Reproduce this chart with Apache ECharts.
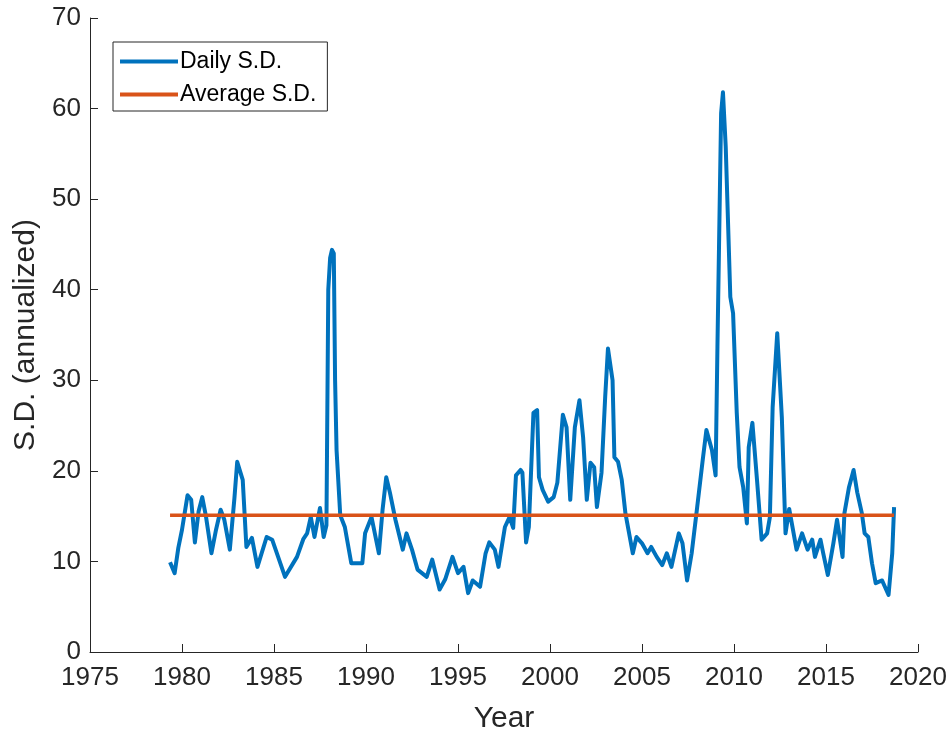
<!DOCTYPE html>
<html>
<head>
<meta charset="utf-8">
<script src="https://cdn.jsdelivr.net/npm/echarts@6/dist/echarts.min.js"></script>
<style>html,body{margin:0;padding:0;background:#fff}#c{width:951px;height:730px}</style>
</head>
<body>
<div id="c"></div>
<script>
const years = [1979.35,1979.6,1979.8,1980.0,1980.3,1980.5,1980.7,1980.9,1981.1,1981.3,1981.6,1981.85,1982.1,1982.3,1982.6,1982.85,1983.0,1983.3,1983.5,1983.8,1984.1,1984.6,1984.9,1985.6,1986.25,1986.6,1986.8,1987.0,1987.2,1987.5,1987.7,1987.85,1987.95,1988.05,1988.15,1988.25,1988.32,1988.4,1988.6,1988.85,1989.2,1989.8,1989.95,1990.3,1990.7,1990.9,1991.1,1991.3,1991.6,1992.0,1992.2,1992.5,1992.8,1993.3,1993.6,1994.0,1994.3,1994.7,1995.0,1995.3,1995.55,1995.8,1996.2,1996.5,1996.7,1997.0,1997.2,1997.55,1997.8,1998.0,1998.15,1998.4,1998.5,1998.7,1998.85,1999.1,1999.3,1999.4,1999.6,1999.9,2000.2,2000.4,2000.7,2000.9,2001.1,2001.35,2001.6,2001.8,2002.0,2002.2,2002.4,2002.55,2002.8,2003.0,2003.15,2003.4,2003.5,2003.7,2003.9,2004.1,2004.5,2004.7,2005.0,2005.3,2005.5,2005.8,2006.1,2006.35,2006.6,2007.0,2007.2,2007.45,2007.7,2008.0,2008.3,2008.5,2008.8,2009.0,2009.1,2009.3,2009.4,2009.55,2009.8,2009.95,2010.15,2010.3,2010.5,2010.7,2010.8,2011.0,2011.25,2011.5,2011.8,2011.95,2012.1,2012.35,2012.6,2012.8,2013.0,2013.4,2013.7,2014.0,2014.25,2014.4,2014.7,2014.85,2015.1,2015.4,2015.6,2015.9,2016.0,2016.25,2016.5,2016.7,2016.95,2017.1,2017.3,2017.5,2017.7,2018.05,2018.2,2018.4,2018.6,2018.7];
const dailySD = [9.9,8.7,11.5,13.5,17.3,16.8,12.1,15.5,17.1,15.0,10.9,13.5,15.7,14.6,11.3,17,21.0,19.0,11.6,12.6,9.4,12.7,12.4,8.3,10.5,12.5,13.1,14.9,12.7,15.9,12.7,14,40,43.5,44.4,44.0,30,22.3,15.1,13.8,9.8,9.8,13.1,14.9,10.9,15.7,19.3,17.6,14.6,11.3,13.1,11.3,9.1,8.3,10.2,6.9,8.0,10.5,8.7,9.4,6.5,7.9,7.2,10.9,12.1,11.3,9.4,13.8,14.9,13.7,19.5,20.1,19.8,12.1,13.8,26.4,26.7,19.3,17.9,16.6,17.1,18.7,26.2,24.8,16.8,24.8,27.8,23.7,16.8,20.9,20.4,16.0,19.8,28.2,33.5,30.0,21.5,21.0,19.0,15.3,10.9,12.7,12.0,10.9,11.6,10.5,9.6,10.9,9.4,13.1,12.0,7.9,10.9,16.0,21.2,24.5,22.3,19.5,33.7,59.5,61.8,55.8,39.2,37.4,26.4,20.4,18.2,14.2,22.6,25.3,19.0,12.4,13.1,14.9,27.0,35.2,25.9,13.1,15.8,11.3,13.1,11.3,12.4,10.5,12.4,10.9,8.5,12.0,14.6,10.5,15.3,18.2,20.1,17.6,15.3,13.1,12.7,9.8,7.6,7.9,7.2,6.3,10.9,16.0];
const avgYears = [1979.35, 2018.7];
const avgSD = [15.1, 15.1];
const xTicks = [1975,1980,1985,1990,1995,2000,2005,2010,2015,2020];
const yTicks = [0,10,20,30,40,50,60,70];

const chart = echarts.init(document.getElementById('c'));
const axisColor = '#262626';
const font = '"Liberation Sans", Arial, sans-serif';
chart.setOption({
  animation: false,
  backgroundColor: '#fff',
  grid: {left: 90, right: 33, top: 18, bottom: 78, containLabel: false, outerBoundsMode: 'none'},
  legend: {
    orient: 'vertical', left: 113, top: 42,
    borderColor: axisColor, borderWidth: 1,
    padding: [8, 11, 5, 7],
    itemWidth: 58, itemHeight: 4, itemGap: 10,
    icon: 'rect',
    textStyle: {fontFamily: font, fontSize: 23, color: '#000', padding: [0,0,0,-3]},
    data: ['Daily S.D.', 'Average S.D.']
  },
  xAxis: {
    type: 'value', min: xTicks[0], max: xTicks[xTicks.length-1], interval: 5,
    name: 'Year', nameLocation: 'middle', nameGap: 52,
    nameTextStyle: {fontFamily: font, fontSize: 30, color: axisColor},
    axisLine: {lineStyle: {color: axisColor, width: 1}},
    axisTick: {inside: true, length: 8, lineStyle: {color: axisColor}},
    axisLabel: {fontFamily: font, fontSize: 26, color: axisColor, margin: 13, formatter: v => String(v)},
    splitLine: {show: false}
  },
  yAxis: {
    type: 'value', min: yTicks[0], max: yTicks[yTicks.length-1], interval: 10,
    name: 'S.D. (annualized)', nameLocation: 'middle', nameGap: 48,
    nameTextStyle: {fontFamily: font, fontSize: 30, color: axisColor},
    axisLine: {show: true, lineStyle: {color: axisColor, width: 1}},
    axisTick: {show: true, inside: true, length: 8, lineStyle: {color: axisColor}},
    axisLabel: {fontFamily: font, fontSize: 26, color: axisColor, margin: 9},
    splitLine: {show: false}
  },
  series: [
    {
      name: 'Daily S.D.', type: 'line', showSymbol: false, symbol: 'none',
      data: years.map((y, i) => [y, dailySD[i]]),
      lineStyle: {color: '#0072BD', width: 4, join: 'round'},
      itemStyle: {color: '#0072BD'}
    },
    {
      name: 'Average S.D.', type: 'line', showSymbol: false, symbol: 'none',
      data: avgYears.map((y, i) => [y, avgSD[i]]),
      lineStyle: {color: '#D95319', width: 3.5},
      itemStyle: {color: '#D95319'}
    }
  ]
});
</script>
</body>
</html>
